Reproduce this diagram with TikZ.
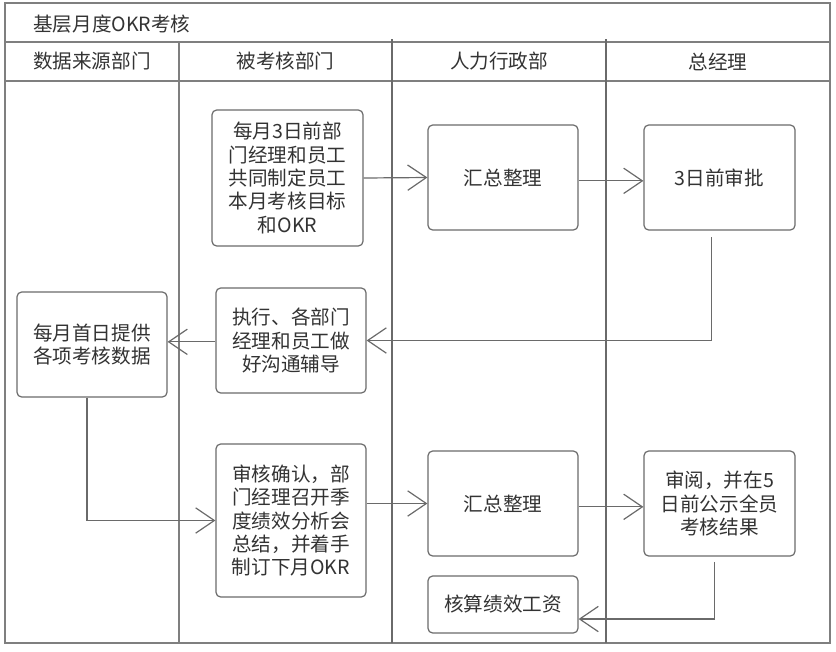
\documentclass[tikz,border=0pt]{standalone}
\usepackage{fontspec}
\setmainfont{Noto Sans CJK SC}
\usetikzlibrary{arrows.meta}
\definecolor{framec}{HTML}{7F7F7F}
\definecolor{boxc}{HTML}{6A6A6A}
\definecolor{txtc}{HTML}{333333}
\begin{document}
\begin{tikzpicture}[x=0.75pt,y=-0.75pt,
  frameline/.style={draw=framec, line width=0.9pt},
  laneline/.style={draw=boxc, line width=1.6pt},
  lbl/.style={text=txtc, font=\fontsize{14.7}{17.5}\selectfont, inner sep=0pt},
  box/.style={draw=boxc, line width=0.9pt, rounded corners=3.5pt, fill=white,
    align=center, text=txtc, font=\fontsize{14.7}{17.5}\selectfont, inner sep=0pt},
  flow/.style={draw=boxc, line width=0.9pt,
    -{Straight Barb[length=14pt,width=19pt,line width=0.9pt]}}]
\useasboundingbox (0,0) rectangle (836,651);
% frame
\draw[frameline] (5,3) rectangle (830,643);
\draw[frameline] (5,42) -- (830,42);
\draw[frameline] (5,81) -- (830,81);
\draw[frameline] (179,42) -- (179,643);
\draw[laneline] (392,39) -- (392,643);
\draw[laneline] (606,39) -- (606,643);
% title and headers
\node[lbl, anchor=west] (title) at (33,24) {基层月度OKR考核};
\node[lbl] (h1) at (92,61.5) {数据来源部门};
\node[lbl] (h2) at (285.5,61.5) {被考核部门};
\node[lbl] (h3) at (499,61.5) {人力行政部};
\node[lbl] (h4) at (718,61.5) {总经理};
% boxes
\node[box, minimum width=113.25pt, minimum height=102pt] (B1) at (287.5,178)
  {每月3日前部\\门经理和员工\\共同制定员工\\本月考核目标\\和OKR};
\node[box, minimum width=112.5pt, minimum height=78.75pt] (B2) at (503,177.5) {汇总整理};
\node[box, minimum width=113.25pt, minimum height=78.75pt] (B3) at (719.5,177.5) {3日前审批};
\node[box, minimum width=112.5pt, minimum height=78.75pt] (B4) at (291,340.5)
  {执行、各部门\\经理和员工做\\好沟通辅导};
\node[box, minimum width=112.5pt, minimum height=78.75pt] (B5) at (92,344.5)
  {每月首日提供\\各项考核数据};
\node[box, minimum width=112.5pt, minimum height=114.75pt] (B6) at (291,520.5)
  {审核确认，部\\门经理召开季\\度绩效分析会\\总结，并着手\\制订下月OKR};
\node[box, minimum width=112.5pt, minimum height=78.75pt] (B7) at (503,503.5) {汇总整理};
\node[box, minimum width=113.25pt, minimum height=78.75pt] (B8) at (719.5,503.5)
  {审阅，并在5\\日前公示全员\\考核结果};
\node[box, minimum width=112.5pt, minimum height=42.75pt] (B9) at (503,604.5) {核算绩效工资};
% connectors
\draw[flow] (B1.east) -- (B2.west);
\draw[flow] ([yshift=-2.5pt]B2.east) -- ([yshift=-2.5pt]B3.west);
\draw[flow] ([xshift=-6pt,yshift=-5pt]B3.south) |- (B4.east);
\draw[flow] ([yshift=-1pt]B4.west) -- ([yshift=-1pt]B4.west -| B5.east);
\draw[flow] ([xshift=-3.75pt]B5.south) |- (B6.west);
\draw[flow] (B6.east |- B7.west) -- (B7.west);
\draw[flow] ([yshift=-2.5pt]B7.east) -- ([yshift=-2.5pt]B8.west);
\draw[flow] ([xshift=-4pt,yshift=-4pt]B8.south) |- ([yshift=-10.9pt]B9.east);
\end{tikzpicture}
\end{document}
